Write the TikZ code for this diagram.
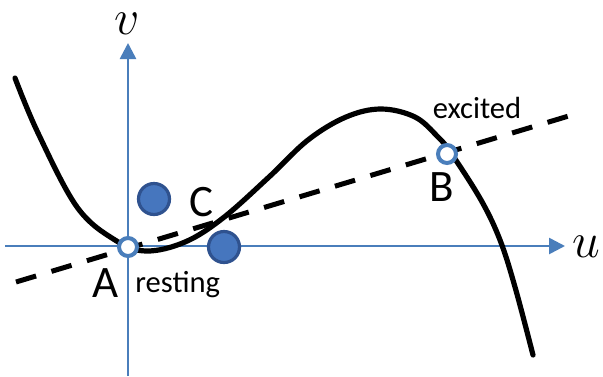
\documentclass[tikz,border=0pt]{standalone}
\usepackage{fontspec}
\setmainfont{Carlito}
\usepackage{tikz}
\usetikzlibrary{arrows.meta}
\definecolor{axisblue}{RGB}{74,126,187}
\definecolor{dotfill}{RGB}{70,118,190}
\definecolor{dotedge}{RGB}{47,82,143}
\tikzset{
  axis/.style={draw=axisblue, line width=1.3pt, -{Triangle[length=8pt,width=8pt]}},
  nullc/.style={draw=black, line width=2.6pt, line cap=round},
  dashline/.style={draw=black, line width=2.5pt, dash pattern=on 10.5pt off 8pt},
  fixpt/.style={circle, draw=axisblue, fill=white, line width=2pt,
                minimum size=9pt, inner sep=0pt},
  statept/.style={circle, draw=dotedge, fill=dotfill, line width=1.6pt,
                  minimum size=15.5pt, inner sep=0pt},
  biglbl/.style={font=\fontsize{22.5}{27}\selectfont, inner sep=0pt},
  smalllbl/.style={font=\fontsize{15.3}{18}\selectfont, inner sep=0pt},
  mathlbl/.style={font=\fontsize{23}{27}\selectfont, inner sep=0pt}
}
\begin{document}
\begin{tikzpicture}[x=0.5pt, y=-0.5pt]
  \useasboundingbox (0,0) rectangle (603,376);

  % Axes
  \draw[axis] (5,246) -- (565,246);
  \draw[axis] (128,376) -- (128,43);
  \node[mathlbl] (labu) at (586,247) {$u$};
  \node[mathlbl] (labv) at (127,24) {$v$};

  % Nullclines
  \draw[dashline] (16,282) -- (572,115);
  \draw[nullc] plot[smooth, tension=0.6] coordinates {
    (15,78) (38,133) (77,207) (115,240) (146,251) (185,242) (223,218)
    (269,177) (308,140) (346,117) (381,109) (415,117) (438,137)
    (451,153) (481,200) (500,240) (515,287) (533,355)};

  % Fixed points and states
  \node[fixpt] (ptA) at (128,247) {};
  \node[fixpt] (ptB) at (447,154) {};
  \node[statept] (stC) at (154,199) {};
  \node[statept] (stD) at (224,247) {};

  % Labels
  \node[biglbl] (labA) at (106,283) {A};
  \node[smalllbl, anchor=base west] (rest) at (135,292) {resting};
  \node[biglbl] (labC) at (201,202) {C};
  \node[biglbl] (labB) at (442,187) {B};
  \node[smalllbl, anchor=base] (exc) at (477,118) {excited};
\end{tikzpicture}
\end{document}
